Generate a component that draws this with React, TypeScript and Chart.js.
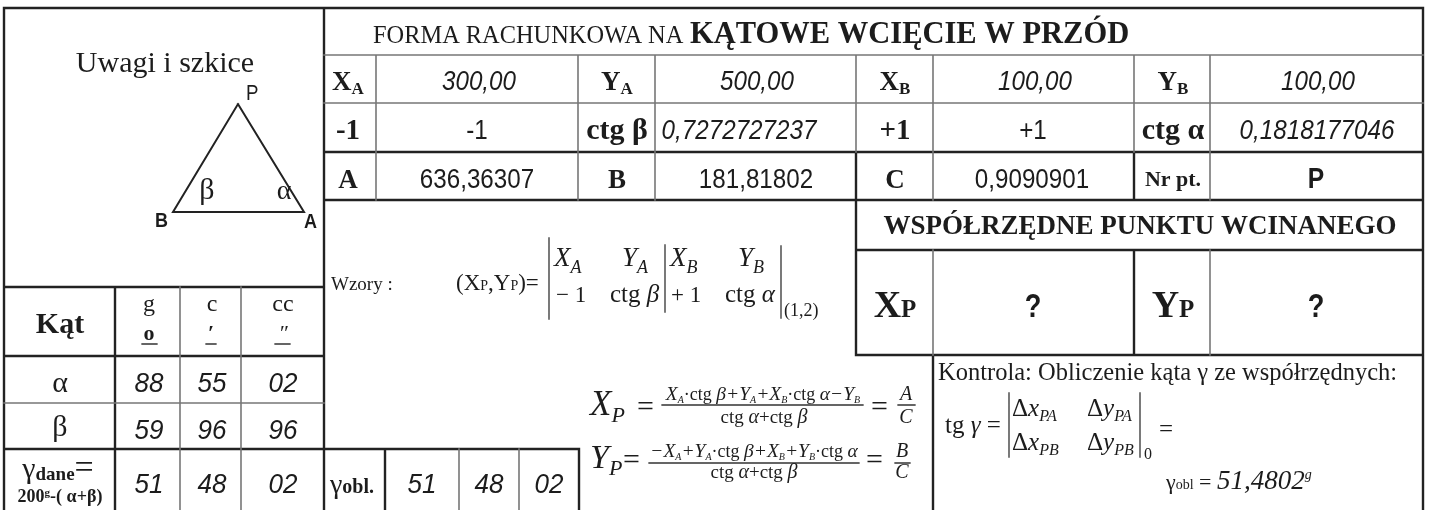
import React, { useEffect, useRef } from "react";
import { Chart, registerables } from "chart.js";

Chart.register(...registerables);

// ---- values read from the form ----
const coordinateValues = ["300,00", "500,00", "100,00", "100,00"];
const rowTwoValues = ["-1", "0,7272727237", "+1", "0,1818177046"];
const rowThreeValues = ["636,36307", "181,81802", "0,9090901", "P"];
const alphaAngle = ["88", "55", "02"];
const betaAngle = ["59", "96", "96"];
const gammaGiven = ["51", "48", "02"];
const gammaComputed = ["51", "48", "02"];
const angleUnits = ["g", "c", "cc"];
const gammaResult = "51,4802";

// ---- layout ----
const SERIF = '"Liberation Serif"';
const SANS = '"Liberation Sans"';
const s = (n: number) => `${n}px ${SERIF}`;
const sb = (n: number) => `bold ${n}px ${SERIF}`;
const si = (n: number) => `italic ${n}px ${SERIF}`;
const a = (n: number) => `${n}px ${SANS}`;
const ai = (n: number) => `italic ${n}px ${SANS}`;
const ab = (n: number) => `bold ${n}px ${SANS}`;

type Run = { t: string; f: string; dy?: number; sx?: number };
type Item = { x: number; y: number; al?: "l" | "c"; runs: Run[] };
const R = (t: string, f: string, dy = 0, sx = 1): Run => ({ t, f, dy, sx });
const C = (x: number, y: number, ...runs: Run[]): Item => ({ x, y, al: "c", runs });
const L = (x: number, y: number, ...runs: Run[]): Item => ({ x, y, al: "l", runs });

// slightly squeezed sans used for the form's typed values
const V = (t: string) => R(t, a(27.5), 0, 0.88);
const VI = (t: string) => R(t, ai(27.5), 0, 0.88);
const VA = (t: string) => R(t, ai(28), 0, 0.93);

const headCols = [348, 617, 895, 1173];
const angleCols = [149, 212, 283];
const obsCols = [422, 489, 549];

const sub = (main: string, suffix: string, size: number) => [R(main, sb(size)), R(suffix, sb(size * 0.63), 4)];

const numeratorX: Run[] = [
  R("X", si(19.5)), R("A", si(10), 3), R("\u00b7ctg ", s(18)), R("\u03b2", si(19.5)), R("+Y", si(19.5)), R("A", si(10), 3),
  R("+X", si(19.5)), R("B", si(10), 3), R("\u00b7ctg ", s(18)), R("\u03b1", si(19.5)), R("\u2212Y", si(19.5)), R("B", si(10), 3),
];
const numeratorY: Run[] = [
  R("\u2212X", si(19.5)), R("A", si(10), 3), R("+Y", si(19.5)), R("A", si(10), 3), R("\u00b7ctg ", s(18)), R("\u03b2", si(19.5)),
  R("+X", si(19.5)), R("B", si(10), 3), R("+Y", si(19.5)), R("B", si(10), 3), R("\u00b7ctg ", s(18)), R("\u03b1", si(19.5)),
];
const denominator: Run[] = [R("ctg ", s(19)), R("\u03b1", si(20)), R("+ctg ", s(19)), R("\u03b2", si(20))];

const textItems: Item[] = [
  C(165, 72, R("Uwagi i szkice", s(30))),
  L(246, 100, R("P", a(22), 0, 0.85)),
  L(155, 227, R("B", ab(20), 0, 0.9)),
  L(304, 228, R("A", ab(20), 0, 0.9)),
  C(207, 199, R("\u03b2", s(30))),
  C(284, 199, R("\u03b1", s(28))),

  L(373, 43, R("FORMA RACHUNKOWA NA ", s(24.4))),
  L(690, 43, R("K\u0104TOWE WCI\u0118CIE W PRZ\u00d3D", sb(30.5))),

  C(headCols[0], 90, ...sub("X", "A", 27)),
  C(479, 90, VI(coordinateValues[0])),
  C(headCols[1], 90, ...sub("Y", "A", 27)),
  C(757, 90, VI(coordinateValues[1])),
  C(headCols[2], 90, ...sub("X", "B", 27)),
  C(1035, 90, VI(coordinateValues[2])),
  C(headCols[3], 90, ...sub("Y", "B", 27)),
  C(1318, 90, VI(coordinateValues[3])),

  C(headCols[0], 139, R("-1", sb(29))),
  C(477, 139, V(rowTwoValues[0])),
  C(headCols[1], 139, R("ctg \u03b2", sb(30))),
  C(739, 139, VI(rowTwoValues[1])),
  C(headCols[2], 139, R("+1", sb(29))),
  C(1033, 139, V(rowTwoValues[2])),
  C(headCols[3], 139, R("ctg \u03b1", sb(30))),
  C(1317, 139, VI(rowTwoValues[3])),

  C(headCols[0], 188, R("A", sb(27))),
  C(477, 188, V(rowThreeValues[0])),
  C(headCols[1], 188, R("B", sb(27))),
  C(756, 188, V(rowThreeValues[1])),
  C(headCols[2], 188, R("C", sb(27))),
  C(1032, 188, V(rowThreeValues[2])),
  C(headCols[3], 186, R("Nr pt.", sb(22))),
  C(1316, 188, R(rowThreeValues[3], ab(29), 0, 0.85)),

  C(1140, 234, R("WSP\u00d3\u0141RZ\u0118DNE PUNKTU WCINANEGO", sb(27))),
  C(895, 317, R("X", sb(38)), R("P", sb(25))),
  C(1173, 317, R("Y", sb(38)), R("P", sb(25))),
  C(1033, 317, R("?", ab(34), 0, 0.8)),
  C(1316, 317, R("?", ab(34), 0, 0.8)),

  L(331, 290, R("Wzory :", s(19))),
  L(456, 290, R("(X", s(23)), R("P", s(14)), R(",Y", s(23)), R("P", s(14)), R(")=", s(23))),
  L(554, 266, R("X", si(27)), R("A", si(18), 7)),
  L(622, 266, R("Y", si(27)), R("A", si(18), 7)),
  L(670, 266, R("X", si(27)), R("B", si(18), 7)),
  L(738, 266, R("Y", si(27)), R("B", si(18), 7)),
  L(556, 302, R("\u2212 1", s(23))),
  L(610, 302, R("ctg ", s(25)), R("\u03b2", si(25))),
  L(671, 302, R("+ 1", s(23))),
  L(725, 302, R("ctg ", s(25)), R("\u03b1", si(25))),
  L(784, 316, R("(1,2)", s(18))),

  L(590, 415, R("X", si(35)), R("P", si(22), 7)),
  L(637, 416, R("=", s(30))),
  C(763, 400, ...numeratorX),
  C(764, 423, ...denominator),
  L(871, 416, R("=", s(30))),
  C(906, 400, R("A", si(20))),
  C(906, 423, R("C", si(20))),

  L(590, 468, R("Y", si(34)), R("P", si(22), 7)),
  L(623, 469, R("=", s(30))),
  C(754, 457, ...numeratorY),
  C(754, 478, ...denominator),
  L(866, 469, R("=", s(30))),
  C(902, 457, R("B", si(20))),
  C(902, 478, R("C", si(20))),

  L(938, 380, R("Kontrola: Obliczenie k\u0105ta \u03b3 ze wsp\u00f3\u0142rz\u0119dnych:", s(24.5))),
  L(945, 433, R("tg ", s(25)), R("\u03b3", si(25)), R(" =", s(25))),
  L(1012, 416, R("\u0394", s(25)), R("x", si(25)), R("PA", si(16), 5)),
  L(1087, 416, R("\u0394", s(25)), R("y", si(25)), R("PA", si(16), 5)),
  L(1012, 450, R("\u0394", s(25)), R("x", si(25)), R("PB", si(16), 5)),
  L(1087, 450, R("\u0394", s(25)), R("y", si(25)), R("PB", si(16), 5)),
  L(1144, 459, R("0", s(16))),
  L(1159, 437, R("=", s(25))),
  L(1166, 489, R("\u03b3", s(22)), R("obl", s(14)), R(" = ", s(22)), R(gammaResult, si(27)), R("g", si(14), -10)),

  C(60, 333, R("K\u0105t", sb(30))),
  ...angleCols.map((x, i) => C(x, 311, R(angleUnits[i], s(24)))),
  C(angleCols[0], 340, R("o", sb(22))),
  C(angleCols[1] - 1, 340, R("\u2032", sb(22))),
  C(angleCols[2], 340, R("\u2033", si(22))),
  C(60, 392, R("\u03b1", s(30))),
  C(60, 436, R("\u03b2", s(30))),
  ...angleCols.map((x, i) => C(x, 392, VA(alphaAngle[i]))),
  ...angleCols.map((x, i) => C(x, 439, VA(betaAngle[i]))),
  ...angleCols.map((x, i) => C(x, 493, VA(gammaGiven[i]))),
  C(58, 478, R("\u03b3", s(30)), R("dane", sb(19), 2), R("=", s(34))),
  C(60, 502, R("200", sb(18)), R("g", sb(11), -6), R("-( \u03b1+\u03b2)", sb(18))),
  L(330, 493, R("\u03b3", s(28)), R("obl.", sb(20))),
  ...obsCols.map((x, i) => C(x, 493, VA(gammaComputed[i]))),
];

// heavy rules: [x1, y1, x2, y2]
const heavyRules = [
  [4, 8, 1423, 8], [4, 8, 4, 510], [1423, 8, 1423, 510], [324, 8, 324, 510],
  [324, 152, 1423, 152], [324, 200, 1423, 200], [4, 287, 324, 287], [4, 449, 579, 449],
  [856, 200, 856, 355], [856, 250, 1423, 250], [856, 355, 1423, 355],
  [1134, 250, 1134, 355], [933, 355, 933, 510], [579, 449, 579, 510], [115, 287, 115, 510],
  [385, 449, 385, 510], [856, 152, 856, 200], [1134, 152, 1134, 200], [4, 356, 324, 356],
];
const greyRules = [
  [324, 55, 1423, 55], [324, 103, 1423, 103], [4, 403, 324, 403],
  [376, 55, 376, 200], [578, 55, 578, 200], [655, 55, 655, 200], [856, 55, 856, 152],
  [933, 55, 933, 200], [1134, 55, 1134, 152], [1210, 55, 1210, 200], [933, 250, 933, 355], [1210, 250, 1210, 355],
  [180, 287, 180, 510], [241, 287, 241, 510], [459, 449, 459, 510], [519, 449, 519, 510],
];
const triangle = [[238, 104], [173, 212], [304, 212], [238, 104]];
const formulaRules = [
  [549, 238, 549, 319], [665, 245, 665, 312], [781, 246, 781, 318],
  [662, 405, 863, 405], [898, 405, 915, 405], [649, 463, 859, 463], [895, 463, 910, 463],
  [1009, 393, 1009, 457], [1140, 393, 1140, 457],
  [142, 344, 157, 344], [206, 344, 216, 344], [275, 344, 290, 344],
];

const toPoints = (rules: number[][]) =>
  rules.flatMap(([x1, y1, x2, y2]) => [{ x: x1, y: y1 }, { x: x2, y: y2 }, { x: x1, y: null }]);

const textPlugin = {
  id: "formText",
  afterDatasetsDraw(chart: any) {
    const { ctx, scales } = chart;
    const ds = chart.data.datasets.find((d: any) => d.label === "text");
    ctx.save();
    ctx.fillStyle = "#1c1c1c";
    ctx.textBaseline = "alphabetic";
    ctx.textAlign = "left";
    for (const it of ds.data as Item[]) {
      let total = 0;
      for (const r of it.runs) {
        ctx.font = r.f;
        total += ctx.measureText(r.t).width * (r.sx || 1);
      }
      let px = scales.x.getPixelForValue(it.x) - (it.al === "c" ? total / 2 : 0);
      const py = scales.y.getPixelForValue(it.y);
      for (const r of it.runs) {
        ctx.font = r.f;
        ctx.save();
        ctx.translate(px, py + (r.dy || 0));
        ctx.scale(r.sx || 1, 1);
        ctx.fillText(r.t, 0, 0);
        ctx.restore();
        px += ctx.measureText(r.t).width * (r.sx || 1);
      }
    }
    ctx.restore();
  },
};

export default function App() {
  const ref = useRef<HTMLCanvasElement>(null);
  useEffect(() => {
    document.body.style.margin = "0";
    document.documentElement.style.overflow = "hidden";
    const base = { type: "line", pointRadius: 0, fill: false, tension: 0, spanGaps: false, borderCapStyle: "square" };
    const chart = new Chart(ref.current as HTMLCanvasElement, {
      type: "scatter",
      data: {
        datasets: [
          { ...base, label: "grey", data: toPoints(greyRules), borderColor: "#777", borderWidth: 1.6, showLine: true },
          { ...base, label: "heavy", data: toPoints(heavyRules), borderColor: "#222", borderWidth: 2.4, showLine: true },
          { ...base, label: "triangle", data: triangle.map(([x, y]) => ({ x, y })), borderColor: "#222", borderWidth: 2, showLine: true },
          { ...base, label: "formula", data: toPoints(formulaRules), borderColor: "#333", borderWidth: 1.3, showLine: true },
          { label: "text", data: textItems as any, pointRadius: 0, showLine: false },
        ] as any,
      },
      options: {
        responsive: false,
        animation: false,
        layout: { padding: 0 },
        plugins: { legend: { display: false }, tooltip: { enabled: false }, title: { display: false } },
        scales: {
          x: { type: "linear", min: 0, max: 1429, display: false },
          y: { type: "linear", min: 0, max: 510, reverse: true, display: false },
        },
      },
      plugins: [textPlugin],
    } as any);
    return () => chart.destroy();
  }, []);
  return (
    <div style={{ width: 1429, height: 510, background: "#fff" }}>
      <canvas ref={ref} width={1429} height={510} style={{ display: "block", filter: "blur(0.55px)" }} />
    </div>
  );
}
